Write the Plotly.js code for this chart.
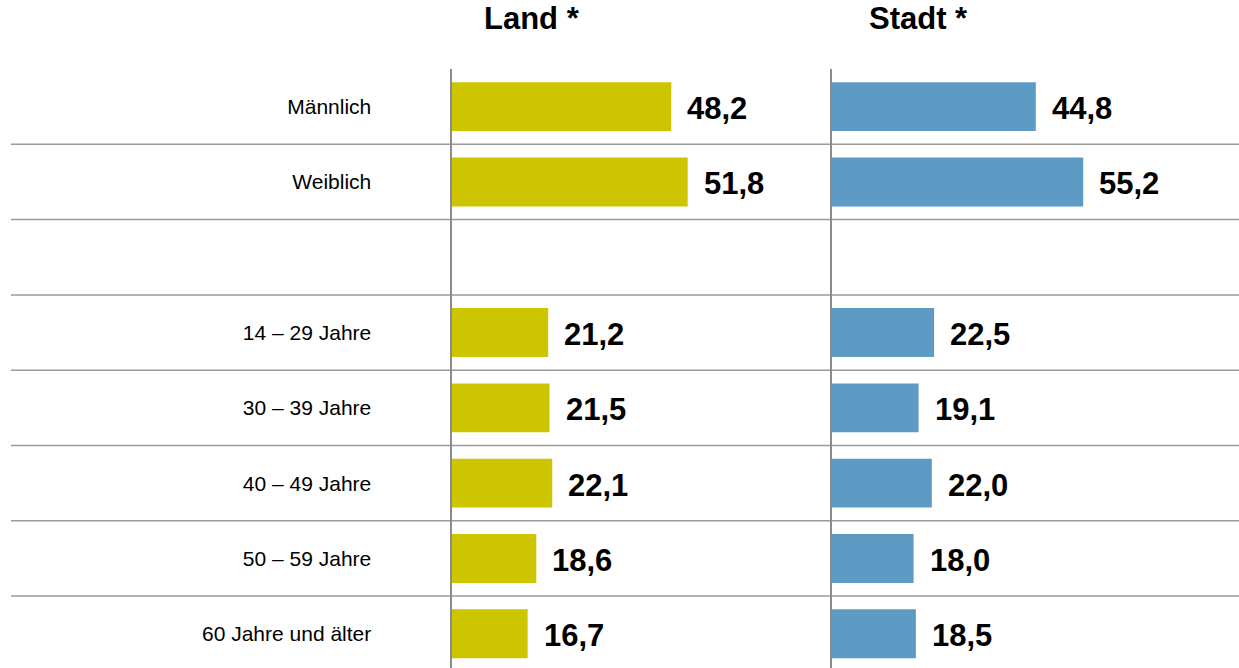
<!DOCTYPE html>
<html>
<head>
<meta charset="utf-8">
<script src="https://cdn.plot.ly/plotly-3.0.1.min.js"></script>
<style>html,body{margin:0;padding:0;background:#fff;}#chart{width:1239px;height:668px;}</style>
</head>
<body>
<div id="chart"></div>
<script>
const categories = ['Männlich', 'Weiblich', ' ', '14 – 29 Jahre', '30 – 39 Jahre', '40 – 49 Jahre', '50 – 59 Jahre', '60 Jahre und älter'];
const landValues = [48.2, 51.8, null, 21.2, 21.5, 22.1, 18.6, 16.7];
const stadtValues = [44.8, 55.2, null, 22.5, 19.1, 22.0, 18.0, 18.5];
const panelTitles = ['Land *', 'Stadt *'];

const W = 1239, H = 668, TOP = 69;
const PXU = 4.56;
const landX0 = 451.5, stadtX0 = 831.5;
const fmt = v => v.toFixed(1).replace('.', ',');
const FONT = 'Liberation Sans, Arial, sans-serif';

const traces = [
  {type: 'bar', orientation: 'h', y: categories, x: landValues, xaxis: 'x', yaxis: 'y',
   marker: {color: '#CDC500'}, width: 0.65, hoverinfo: 'skip'},
  {type: 'bar', orientation: 'h', y: categories, x: stadtValues, xaxis: 'x2', yaxis: 'y2',
   marker: {color: '#5D9AC4'}, width: 0.65, hoverinfo: 'skip'}
];

const annotations = [];
categories.forEach((c, i) => {
  if (landValues[i] != null) annotations.push({x: landValues[i], y: c, xref: 'x', yref: 'y', text: fmt(landValues[i]),
    showarrow: false, xanchor: 'left', yanchor: 'middle', xshift: 14, yshift: -2, font: {family: FONT, size: 31, color: '#000', weight: 'bold'}});
  if (stadtValues[i] != null) annotations.push({x: stadtValues[i], y: c, xref: 'x2', yref: 'y2', text: fmt(stadtValues[i]),
    showarrow: false, xanchor: 'left', yanchor: 'middle', xshift: 14, yshift: -2, font: {family: FONT, size: 31, color: '#000', weight: 'bold'}});
});
const plotH = H - TOP;
[532, 918].forEach((px, k) => annotations.push({xref: 'paper', yref: 'paper', x: px / W, y: (H - 19) / plotH,
  text: panelTitles[k], showarrow: false, xanchor: 'center', yanchor: 'middle',
  font: {family: FONT, size: 31, color: '#000', weight: 'bold'}}));

const shapes = [];
for (let k = 0; k < categories.length - 1; k++) {
  shapes.push({type: 'line', xref: 'paper', yref: 'y', x0: 11 / W, x1: 1, y0: k + 0.5, y1: k + 0.5,
    line: {color: '#9a9a9a', width: 1.5}, layer: 'below'});
}

const unitsVisible = plotH / 75.3;
const yRange = [-0.5 + unitsVisible, -0.5];

const layout = {
  width: W, height: H,
  margin: {l: 0, r: 0, t: TOP, b: 0, pad: 0},
  paper_bgcolor: '#fff', plot_bgcolor: 'rgba(0,0,0,0)',
  showlegend: false,
  xaxis: {domain: [landX0 / W, stadtX0 / W], range: [0, (stadtX0 - landX0) / PXU], visible: false, fixedrange: true},
  xaxis2: {domain: [stadtX0 / W, 1], range: [0, (W - stadtX0) / PXU], visible: false, fixedrange: true},
  yaxis: {type: 'category', anchor: 'x', range: yRange, showgrid: false, zeroline: false,
    showline: true, linecolor: '#8c8c8c', linewidth: 2, ticks: '', ticklabelstandoff: 74,
    tickfont: {family: FONT, size: 21, color: '#000'}, fixedrange: true},
  yaxis2: {type: 'category', anchor: 'x2', range: yRange, showgrid: false, zeroline: false,
    showline: true, linecolor: '#8c8c8c', linewidth: 2, ticks: '', showticklabels: false, fixedrange: true},
  annotations: annotations,
  shapes: shapes
};

Plotly.newPlot('chart', traces, layout, {staticPlot: true, displayModeBar: false});
</script>
</body>
</html>
